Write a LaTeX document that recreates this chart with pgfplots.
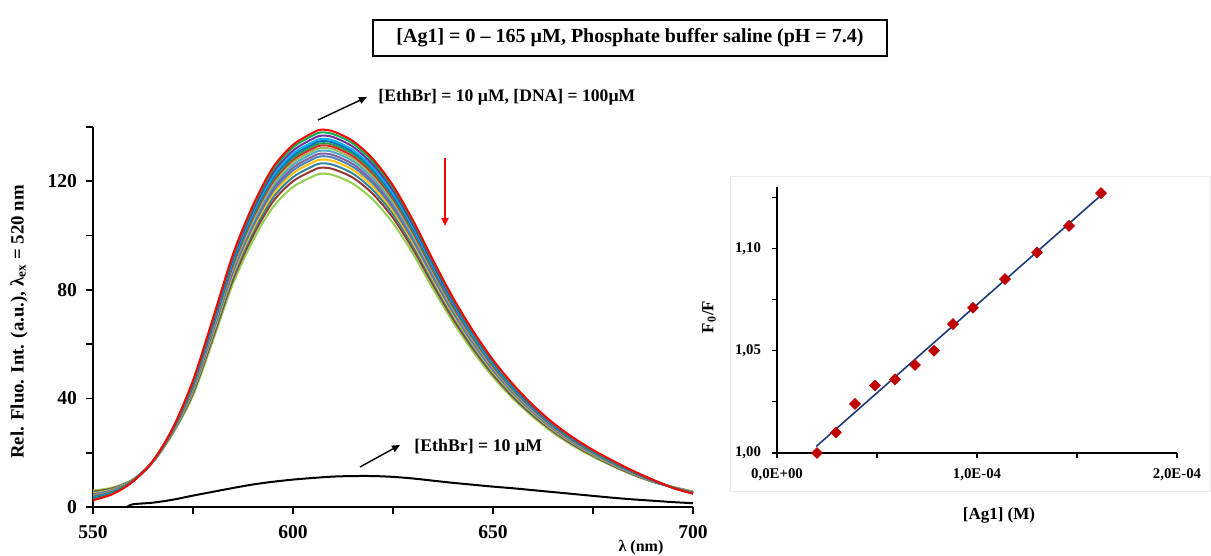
\documentclass[border=0pt]{standalone}
\usepackage{pgfplots}
\pgfplotsset{compat=1.18}
\usepackage{pgfplotstable}
\usepackage{fontspec}
\setmainfont{Liberation Serif}
\usetikzlibrary{arrows.meta}

\definecolor{c1}{HTML}{FF0000}
\definecolor{c2}{HTML}{00B050}
\definecolor{c3}{HTML}{7030A0}
\definecolor{c4}{HTML}{00B0F0}
\definecolor{c5}{HTML}{0070C0}
\definecolor{c6}{HTML}{2E9E48}
\definecolor{c7}{HTML}{E8202A}
\definecolor{c8}{HTML}{9BBB59}
\definecolor{c9}{HTML}{4BACC6}
\definecolor{c10}{HTML}{8064A2}
\definecolor{c11}{HTML}{4F81BD}
\definecolor{c12}{HTML}{FFC000}
\definecolor{c13}{HTML}{31859C}
\definecolor{c14}{HTML}{953735}
\definecolor{c15}{HTML}{92D050}
\definecolor{fitblue}{HTML}{1F3A7A}
\definecolor{mkred}{HTML}{C00000}

\pgfplotstableread{
x c1 c2 c3 c4 c5 c6 c7 c8 c9 c10 c11 c12 c13 c14 c15
550 2.5 2.8 3.0 3.3 3.5 3.6 3.8 4.0 4.2 4.5 4.7 5.0 5.3 5.6 6.1
555 4.8 5.0 5.1 5.3 5.4 5.6 5.7 5.8 6.0 6.1 6.3 6.5 6.7 6.9 7.2
560 9.4 9.5 9.5 9.6 9.6 9.7 9.7 9.7 9.8 9.8 9.9 10.0 10.0 10.1 10.2
565 17.0 17.0 17.0 16.9 16.9 16.9 16.9 16.8 16.8 16.8 16.7 16.7 16.7 16.6 16.6
570 29.2 29.0 28.9 28.8 28.7 28.6 28.5 28.4 28.2 28.1 28.0 27.8 27.7 27.5 27.2
575 46.6 46.2 45.8 45.4 45.2 44.9 44.6 44.3 44.0 43.6 43.3 42.9 42.4 41.9 41.1
580 69.5 69.0 68.4 67.8 67.4 67.0 66.6 66.2 65.7 65.1 64.6 64.0 63.3 62.5 61.4
585 93.1 92.5 91.7 90.9 90.3 89.8 89.2 88.6 88.0 87.2 86.6 85.8 84.8 83.8 82.3
590 111.2 110.4 109.4 108.5 107.8 107.2 106.6 105.8 105.0 104.2 103.4 102.4 101.3 100.0 98.2
595 125.1 124.2 123.1 122.0 121.3 120.6 119.9 119.1 118.2 117.2 116.3 115.2 113.9 112.5 110.5
600 133.4 132.5 131.3 130.2 129.4 128.6 127.9 127.0 126.0 125.0 124.0 122.9 121.5 120.0 117.9
605 137.9 136.9 135.7 134.5 133.7 132.9 132.1 131.2 130.3 129.2 128.2 127.0 125.6 124.0 121.8
607 139.0 138.0 136.8 135.6 134.8 134.0 133.2 132.3 131.3 130.2 129.2 128.0 126.6 125.0 122.8
610 138.4 137.4 136.3 135.1 134.3 133.5 132.7 131.8 130.8 129.7 128.7 127.5 126.1 124.5 122.3
615 134.8 133.9 132.7 131.5 130.8 130.0 129.2 128.3 127.4 126.3 125.3 124.2 122.8 121.3 119.1
620 128.2 127.2 126.1 125.0 124.3 123.5 122.8 122.0 121.1 120.0 119.1 118.0 116.7 115.3 113.2
625 118.4 117.6 116.6 115.5 114.8 114.2 113.5 112.7 111.9 110.9 110.1 109.1 107.9 106.5 104.6
630 105.6 104.9 104.0 103.1 102.4 101.8 101.2 100.5 99.8 99.0 98.2 97.3 96.2 95.0 93.3
635 91.0 90.4 89.6 88.8 88.3 87.8 87.2 86.7 86.0 85.3 84.6 83.8 82.9 81.9 80.4
640 77.1 76.6 75.9 75.3 74.8 74.4 73.9 73.4 72.9 72.3 71.7 71.0 70.3 69.4 68.2
645 64.9 64.4 63.9 63.3 63.0 62.6 62.2 61.8 61.3 60.8 60.3 59.8 59.1 58.4 57.3
650 54.2 53.8 53.4 52.9 52.6 52.3 51.9 51.6 51.2 50.8 50.4 49.9 49.4 48.8 47.9
655 45.2 44.8 44.5 44.1 43.8 43.5 43.3 43.0 42.7 42.3 42.0 41.6 41.1 40.6 39.9
660 37.5 37.3 36.9 36.6 36.4 36.2 36.0 35.7 35.5 35.2 34.9 34.6 34.2 33.8 33.2
665 31.0 30.8 30.5 30.2 30.1 29.9 29.7 29.5 29.3 29.0 28.8 28.5 28.2 27.9 27.4
670 25.6 25.4 25.2 25.0 24.8 24.7 24.5 24.3 24.2 24.0 23.8 23.6 23.3 23.0 22.6
675 21.0 20.8 20.7 20.5 20.4 20.2 20.1 20.0 19.8 19.7 19.5 19.3 19.1 18.9 18.5
680 17.0 16.8 16.7 16.5 16.4 16.3 16.2 16.1 16.0 15.9 15.8 15.6 15.4 15.2 15.0
685 13.3 13.2 13.1 13.0 12.9 12.9 12.8 12.7 12.6 12.5 12.4 12.3 12.2 12.0 11.8
690 10.0 10.0 9.9 9.8 9.8 9.8 9.7 9.7 9.6 9.6 9.5 9.5 9.4 9.3 9.2
695 7.0 7.1 7.1 7.1 7.1 7.1 7.2 7.2 7.2 7.2 7.2 7.3 7.3 7.3 7.4
700 4.9 5.0 5.0 5.1 5.1 5.2 5.2 5.2 5.3 5.3 5.4 5.5 5.5 5.6 5.7
}\spectra

\pgfplotstableread{
x y
558.5 0.0
560 1.0
565 1.6
570 2.7
575 4.2
580 5.6
585 7.0
590 8.3
595 9.3
600 10.1
605 10.7
610 11.2
615 11.4
620 11.4
625 11.1
630 10.5
635 9.7
640 8.9
645 8.2
650 7.5
655 6.9
660 6.2
665 5.5
670 4.8
675 4.1
680 3.4
685 2.8
690 2.3
695 1.8
700 1.4
}\ethbr

\pgfplotstableread{
c r
2.0e-5 1.000
2.95e-5 1.010
3.9e-5 1.024
4.9e-5 1.033
5.9e-5 1.036
6.9e-5 1.043
7.85e-5 1.050
8.8e-5 1.063
9.8e-5 1.071
1.14e-4 1.085
1.30e-4 1.098
1.46e-4 1.111
1.62e-4 1.127
}\sv

\begin{document}
\begin{tikzpicture}
\useasboundingbox (0,0) rectangle (605.5pt,278pt);

% faint chart-area frame of the inset
\draw[black!8, line width=0.5pt] (365pt,32pt) rectangle (605pt,189.5pt);

\begin{axis}[
  at={(46.5pt,24.5pt)}, anchor=south west,
  scale only axis, width=300pt, height=190pt,
  xmin=550, xmax=700, ymin=0, ymax=140,
  axis lines*=left,
  axis line style={line width=1pt, black, -},
  xtick={550,575,...,700}, xticklabels={550,,600,,650,,700},
  ytick={0,20,...,140}, yticklabels={0,,40,,80,,120,},
  tick align=outside, major tick length=3.5pt,
  every tick/.style={black, line width=0.9pt},
  tick label style={font=\fontsize{9.8}{11}\selectfont\bfseries},
  xticklabel style={yshift=-2pt},
  yticklabel style={xshift=-1pt},
  clip=false,
]
\pgfplotsinvokeforeach{15,14,...,1}{
  \addplot[color=c#1, line width=1pt, smooth, no marks] table[x=x, y=c#1] {\spectra};
}
\addplot[black, line width=1pt, smooth, no marks] table[x=x, y=y] {\ethbr};
\end{axis}

\begin{axis}[
  at={(388.5pt,51.5pt)}, anchor=south west,
  scale only axis, width=200pt, height=133pt,
  xmin=0, xmax=2e-4, ymin=1, ymax=1.13,
  axis lines*=left,
  axis line style={line width=0.7pt, black, -},
  scaled x ticks=false, scaled y ticks=false,
  xtick={0,5e-5,1e-4,1.5e-4,2e-4},
  xticklabels={{0,0E+00},,{1,0E-04},,{2,0E-04}},
  ytick={1,1.025,1.05,1.075,1.1,1.125},
  yticklabels={{1,00},,{1,05},,{1,10},},
  tick align=outside, major tick length=2.5pt,
  every tick/.style={black, line width=0.6pt},
  tick label style={font=\fontsize{7.4}{9}\selectfont\bfseries},
  xticklabel style={yshift=-2pt},
  yticklabel style={xshift=-2pt},
  clip=false,
]
\addplot[fitblue, line width=0.8pt, no marks] coordinates {(1.96e-5,1.0032) (1.615e-4,1.1255)};
\addplot[only marks, mark=square*, mark size=1.9pt,
  mark options={rotate=45, fill=mkred, draw=mkred}] table[x=c, y=r] {\sv};
\end{axis}

% title box
\draw[line width=0.7pt] (186.5pt,250pt) rectangle (443.5pt,268pt);
\node[font=\fontsize{10}{12}\selectfont\bfseries] at (315pt,259pt)
  {[Ag1] = 0 – 165 µM, Phosphate buffer saline (pH = 7.4)};

% axis labels
\node[font=\fontsize{9.4}{11}\selectfont\bfseries, rotate=90] at (9.5pt,117pt)
  {Rel. Fluo. Int. (a.u.), λ\textsubscript{ex} = 520 nm};
\node[font=\fontsize{8}{10}\selectfont\bfseries] at (320.5pt,4pt) {λ (nm)};
\node[font=\fontsize{8.5}{10}\selectfont\bfseries] at (499.5pt,20.5pt) {[Ag1] (M)};
\node[font=\fontsize{8.5}{10}\selectfont\bfseries, rotate=90] at (354.5pt,119.5pt) {F\textsubscript{0}/F};

% annotations
\draw[-{Triangle[length=4pt,width=3.5pt]}, line width=0.7pt] (159pt,218pt) -- (183.5pt,229.5pt);
\node[anchor=west, font=\fontsize{8.8}{10}\selectfont\bfseries, inner sep=0pt] at (189pt,229.5pt)
  {[EthBr] = 10 µM, [DNA] = 100µM};
\draw[-{Triangle[length=4pt,width=3.5pt]}, line width=0.7pt] (180pt,44.5pt) -- (200pt,55.5pt);
\node[anchor=west, font=\fontsize{8.9}{10}\selectfont\bfseries, inner sep=0pt] at (207pt,54.5pt)
  {[EthBr] = 10 µM};
\draw[-{Triangle[length=4pt,width=3.5pt]}, red, line width=0.8pt] (222.5pt,199pt) -- (222.5pt,165pt);
\end{tikzpicture}
\end{document}
